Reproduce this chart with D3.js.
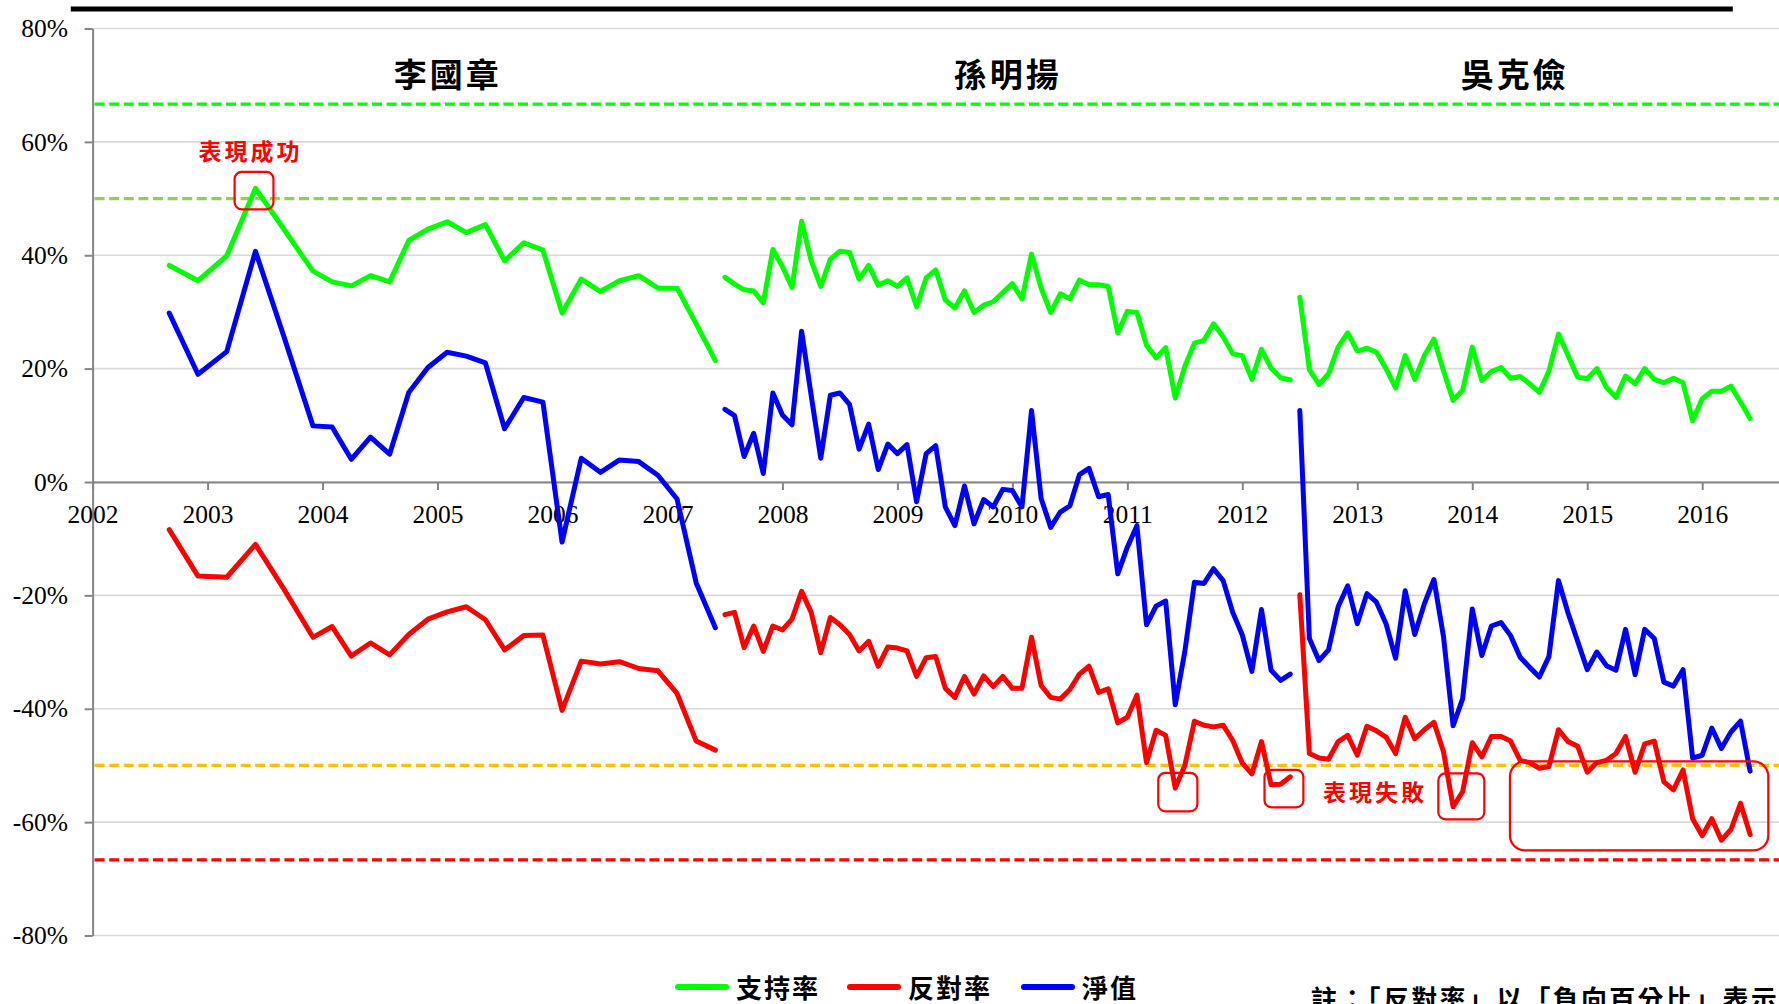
<!DOCTYPE html>
<html lang="zh-Hant">
  <head>
    <meta charset="utf-8">
    <title>教育局局長民望</title>
    <script src="https://d3js.org/d3.v7.min.js"></script>
    <style>
      body { margin: 0; background: #fff; }
      svg { display: block; }
    </style>
  </head>
  <body>
    <script>

      var w = 1779;
      var h = 1004;

      // terms of the three secretaries
      var terms = ["李國章", "孫明揚", "吳克儉"];
      var termCentres = [2005.09, 2009.96, 2014.37];

      // 李國章: survey months are irregular
      var liMonths = ["2002-09", "2002-12", "2003-03", "2003-06", "2003-09", "2003-12",
                      "2004-02", "2004-04", "2004-06", "2004-08", "2004-10", "2004-12",
                      "2005-02", "2005-04", "2005-06", "2005-08", "2005-10", "2005-12",
                      "2006-02", "2006-04", "2006-06", "2006-08", "2006-10", "2006-12",
                      "2007-02", "2007-04", "2007-06"];
      var liSupport = [38.2, 35.5, 39.9, 51.8, 44.5, 37.2, 35.3, 34.6, 36.4, 35.3, 42.6, 44.6, 45.9, 44.0,
                       45.4, 39.0, 42.2, 40.9, 29.8, 35.8, 33.6, 35.5, 36.4, 34.2, 34.2, 27.9, 21.4];
      var liOppose = [-8.4, -16.6, -16.8, -11.0, -19.0, -27.4, -25.5, -30.7, -28.4, -30.5, -26.9, -24.2,
                      -22.9, -22.0, -24.3, -29.6, -27.1, -27.0, -40.3, -31.6, -32.1, -31.7, -32.9, -33.3,
                      -37.3, -45.7, -47.3];
      var liNet = [29.8, 19.0, 23.0, 40.7, 25.5, 9.9, 9.7, 4.0, 7.9, 4.9, 15.8, 20.2, 22.9, 22.2, 21.0,
                   9.4, 14.9, 14.1, -10.6, 4.2, 1.7, 3.9, 3.6, 1.2, -3.0, -17.8, -25.7];

      // 孫明揚: monthly, 2007-07 to 2012-06
      var sunFirst = "2007-07", sunLast = "2012-06";
      var sunSupport = [36.1, 34.9, 33.9, 33.7, 31.6, 41.0, 38.0, 34.3, 46.0, 39.0, 34.5, 39.3, 40.7, 40.5,
                        35.8, 38.2, 34.7, 35.5, 34.5, 36.0, 30.9, 36.0, 37.4, 32.1, 30.7, 33.7, 29.9, 31.2,
                        31.8, 33.4, 35.0, 32.3, 40.2, 34.2, 29.9, 33.2, 32.3, 35.6, 34.8, 34.8, 34.5, 26.3,
                        30.1, 29.9, 24.1, 21.9, 23.7, 14.8, 20.4, 24.5, 25.0, 27.9, 25.6, 22.6, 22.3, 18.1,
                        23.4, 20.1, 18.4, 18.0];
      var sunOppose = [-23.4, -23.0, -29.2, -25.4, -29.9, -25.4, -26.1, -24.2, -19.3, -23.0, -30.1, -23.9,
                       -25.2, -26.9, -29.8, -28.1, -32.5, -29.1, -29.3, -29.8, -34.3, -31.0, -30.8, -36.4,
                       -38.0, -34.3, -37.4, -34.2, -36.1, -34.3, -36.4, -36.4, -27.4, -35.9, -38.0, -38.3,
                       -36.6, -33.9, -32.5, -37.1, -36.5, -42.5, -41.5, -37.6, -49.5, -43.8, -44.7, -54.0,
                       -50.0, -42.2, -42.9, -43.2, -42.9, -45.6, -49.6, -51.5, -45.8, -53.4, -53.3, -52.0];
      var sunNet = [12.8, 11.7, 4.5, 8.6, 1.5, 15.7, 11.8, 10.1, 26.6, 15.3, 4.2, 15.3, 15.7, 13.7, 5.8,
                    10.2, 2.2, 6.7, 5.0, 6.6, -3.5, 5.0, 6.4, -4.4, -7.7, -0.7, -7.4, -3.1, -4.4, -1.3,
                    -1.5, -4.4, 12.6, -2.9, -8.0, -5.3, -4.2, 1.3, 2.4, -2.6, -2.2, -16.2, -11.5, -7.7,
                    -25.2, -21.9, -21.0, -39.3, -29.9, -17.7, -17.9, -15.3, -17.4, -23.0, -27.0, -33.4,
                    -22.5, -33.2, -35.0, -33.9];

      // 吳克儉: monthly, 2012-07 to 2016-06
      var ngFirst = "2012-07", ngLast = "2016-06";
      var ngSupport = [32.6, 19.8, 17.2, 19.1, 23.8, 26.3, 23.1, 23.6, 22.9, 20.0, 16.6, 22.3, 18.1, 22.3,
                       25.2, 19.6, 14.4, 16.2, 23.8, 17.9, 19.5, 20.2, 18.3, 18.6, 17.3, 15.8, 19.6, 26.1,
                       22.3, 18.5, 18.2, 20.0, 16.7, 14.9, 18.7, 17.3, 20.0, 18.1, 17.5, 18.3, 17.5, 10.8,
                       14.7, 16.0, 16.0, 16.9, 14.1, 11.2];
      var ngOppose = [-19.9, -47.9, -48.7, -48.9, -45.8, -44.7, -48.2, -43.1, -43.9, -45.0, -47.9, -41.5,
                      -45.3, -43.7, -42.4, -47.6, -57.3, -54.6, -46.0, -48.5, -44.9, -44.9, -45.7, -49.1,
                      -49.5, -50.5, -50.2, -43.7, -45.8, -46.6, -51.2, -49.5, -49.1, -47.9, -44.9, -51.2,
                      -46.2, -45.7, -52.9, -54.3, -50.8, -59.4, -62.4, -59.4, -63.2, -61.3, -56.7, -62.2];
      var ngNet = [12.6, -27.6, -31.5, -29.6, -22.0, -18.3, -25.0, -19.7, -21.2, -25.0, -31.1, -19.2,
                   -26.9, -21.5, -17.2, -27.3, -43.0, -38.2, -22.4, -30.6, -25.4, -24.8, -27.1, -30.9,
                   -32.7, -34.4, -30.8, -17.4, -23.1, -28.1, -33.1, -30.0, -32.4, -33.2, -26.0, -34.0,
                   -26.0, -27.6, -35.3, -36.0, -33.1, -48.7, -48.2, -43.4, -47.0, -44.1, -42.2, -51.0];

      var seriesNames = ["支持率", "反對率", "淨值"];
      var yTicks = [80, 60, 40, 20, 0, -20, -40, -60, -80];
      var xTicks = [2002, 2003, 2004, 2005, 2006, 2007, 2008, 2009, 2010, 2011, 2012, 2013, 2014, 2015, 2016];

      // reference lines: 2/3 and 1/2, both sides
      var thresholds = [200 / 3, 50, -50, -200 / 3];

      // highlighted spots: [from year, to year, top %, bottom %]
      var goodBoxes = [[2003.235, 2003.573, 54.7, 48.1]];
      var badBoxes = [[2011.269, 2011.609, -51.3, -58.1],
                      [2012.193, 2012.531, -50.8, -57.4],
                      [2013.705, 2014.105, -51.4, -59.5],
                      [2014.328, 2016.575, -49.3, -65.0]];

      var note = "註：「反對率」以「負向百分比」表示。";

      // ---------------------------------------------------------------

      var seriesColours = ["#00ff00", "#ff0000", "#0000ff"];
      var thresholdColours = ["#00ff00", "#92d050", "#ffc000", "#ff0000"];
      var serif = "'Liberation Serif', 'Times New Roman', serif";
      var cjk = "'Noto Sans CJK TC', 'Noto Sans CJK SC', sans-serif";

      var parseMonth = d3.timeParse("%Y-%m");
      function decYear(d) { return d.getFullYear() + d.getMonth() / 12; }
      function monthsBetween(a, b) {
        return d3.timeMonth.range(parseMonth(a), d3.timeMonth.offset(parseMonth(b), 1));
      }

      var liTimes = liMonths.map(function(m) { return decYear(parseMonth(m)); });
      var sunTimes = monthsBetween(sunFirst, sunLast).map(decYear);
      var ngTimes = monthsBetween(ngFirst, ngLast).map(decYear);

      var termTimes = [liTimes, sunTimes, ngTimes];
      var termValues = [[liSupport, liOppose, liNet],
                        [sunSupport, sunOppose, sunNet],
                        [ngSupport, ngOppose, ngNet]];

      var svg = d3.select("body")
          .append("svg")
          .attr("width", w)
          .attr("height", h);

      var left = 92.6;
      var x = d3.scaleLinear()
          .domain([2002, 2016.668])
          .range([left, w]);

      var y = d3.scaleLinear()
          .domain([-80, 80])
          .range([935.5, 28.5]);

      // black rule at the top
      svg.append("rect")
          .attr("x", 70.8)
          .attr("y", 6.5)
          .attr("width", 1662)
          .attr("height", 5)
          .attr("fill", "#000");

      // gridlines
      svg.append("g")
          .selectAll("line")
          .data(yTicks)
          .enter()
          .append("line")
          .attr("x1", left)
          .attr("x2", w)
          .attr("y1", d => y(d))
          .attr("y2", d => y(d))
          .attr("stroke", "#d9d9d9")
          .attr("stroke-width", 1.6);

      // dashed reference lines
      svg.append("g")
          .selectAll("line")
          .data(thresholds)
          .enter()
          .append("line")
          .attr("x1", left + 2)
          .attr("x2", w)
          .attr("y1", d => y(d))
          .attr("y2", d => y(d))
          .attr("stroke", (d, i) => thresholdColours[i])
          .attr("stroke-width", 3.3)
          .attr("stroke-dasharray", "10,4.6");

      // y axis
      var yAxis = d3.axisLeft(y)
          .tickValues(yTicks)
          .tickFormat(d => d + "%")
          .tickSizeInner(8)
          .tickSizeOuter(0)
          .tickPadding(16.6);

      var gy = svg.append("g")
          .attr("transform", "translate(" + left + ",0)")
          .call(yAxis);

      // x axis sits on the 0% line
      var xAxis = d3.axisBottom(x)
          .tickValues(xTicks)
          .tickFormat(d3.format("d"))
          .tickSizeInner(8)
          .tickSizeOuter(0)
          .tickPadding(15);

      var gx = svg.append("g")
          .attr("transform", "translate(0," + y(0) + ")")
          .call(xAxis);

      [gy, gx].forEach(function(g) {
        g.attr("font-family", null).attr("font-size", null);
        g.select(".domain").attr("stroke", "#868686").attr("stroke-width", 2);
        g.selectAll(".tick line").attr("stroke", "#868686").attr("stroke-width", 2);
        g.selectAll(".tick text")
          .attr("fill", "#000")
          .style("font-family", serif)
          .style("font-size", "25.5px");
      });

      // names of the secretaries
      svg.append("g")
          .selectAll("text")
          .data(terms)
          .enter()
          .append("text")
          .attr("x", (d, i) => x(termCentres[i]))
          .attr("y", 87)
          .attr("text-anchor", "middle")
          .style("font-family", cjk)
          .style("font-weight", "bold")
          .style("font-size", "33px")
          .style("letter-spacing", "3px")
          .text(d => d);

      // series, one path per term so the terms stay apart
      var line = d3.line()
          .x(d => x(d[0]))
          .y(d => y(d[1]));

      seriesNames.forEach(function(name, s) {
        var g = svg.append("g").attr("class", "series-" + s);
        termTimes.forEach(function(times, t) {
          var pts = times.map((tt, i) => [tt, termValues[t][s][i]]);
          g.append("path")
              .datum(pts)
              .attr("d", line)
              .attr("fill", "none")
              .attr("stroke", seriesColours[s])
              .attr("stroke-width", 5)
              .attr("stroke-linejoin", "round")
              .attr("stroke-linecap", "round");
        });
      });

      // highlight boxes
      var boxes = goodBoxes.concat(badBoxes);
      svg.append("g")
          .selectAll("rect")
          .data(boxes)
          .enter()
          .append("rect")
          .attr("x", d => x(d[0]))
          .attr("y", d => y(d[2]))
          .attr("width", d => x(d[1]) - x(d[0]))
          .attr("height", d => y(d[3]) - y(d[2]))
          .attr("rx", (d, i) => i == boxes.length - 1 ? 15 : 7)
          .attr("fill", "none")
          .attr("stroke", "#ff0000")
          .attr("stroke-width", 2.2);

      svg.append("text")
          .attr("x", x(2003.374))
          .attr("y", 160)
          .attr("text-anchor", "middle")
          .attr("fill", "#ff0000")
          .style("font-family", cjk)
          .style("font-weight", "bold")
          .style("font-size", "23px")
          .style("letter-spacing", "3px")
          .text("表現成功");

      svg.append("text")
          .attr("x", x(2013.153))
          .attr("y", 801)
          .attr("text-anchor", "middle")
          .attr("fill", "#ff0000")
          .style("font-family", cjk)
          .style("font-weight", "bold")
          .style("font-size", "23px")
          .style("letter-spacing", "3px")
          .text("表現失敗");

      // legend
      var legendX = [675, 847, 1021];
      var legend = svg.append("g")
          .selectAll("g")
          .data(seriesNames)
          .enter()
          .append("g")
          .attr("transform", (d, i) => "translate(" + legendX[i] + ",987)");

      legend.append("line")
          .attr("x1", 3)
          .attr("x2", 51)
          .attr("stroke", (d, i) => seriesColours[i])
          .attr("stroke-width", 6)
          .attr("stroke-linecap", "round");

      legend.append("text")
          .attr("x", 61)
          .attr("y", 11)
          .style("font-family", cjk)
          .style("font-weight", "bold")
          .style("font-size", "26px")
          .style("letter-spacing", "2px")
          .text(d => d);

      // footnote, runs past the bottom right corner as in the source picture
      svg.append("text")
          .attr("x", 1311)
          .attr("y", 1009)
          .style("font-family", cjk)
          .style("font-weight", "bold")
          .style("font-size", "26px")
          .style("letter-spacing", "2.3px")
          .text(note);

    </script>
  </body>
</html>
